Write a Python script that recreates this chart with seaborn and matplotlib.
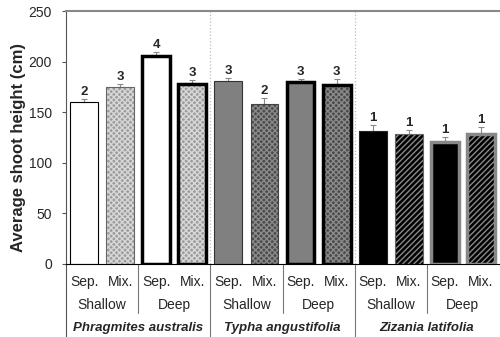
import matplotlib
matplotlib.use("Agg")
import matplotlib.pyplot as plt
from matplotlib.patches import Rectangle
import seaborn as sns
import pandas as pd

species = ["Phragmites australis", "Typha angustifolia", "Zizania latifolia"]
depths = ["Shallow", "Deep"]
mixes = ["Sep.", "Mix."]

heights = [160, 175, 206, 178, 181, 158, 180, 177, 131, 128, 121, 128]
errs = [3, 3, 4, 4, 3, 6, 3, 6, 6, 4, 4, 7]
n_lab = ["2", "3", "4", "3", "3", "2", "3", "3", "1", "1", "1", "1"]

sns.set_style("white")
plt.rcParams["font.family"] = ["Liberation Sans", "DejaVu Sans"]
plt.rcParams["hatch.linewidth"] = 1.0

rows = []
for s in species:
    for d in depths:
        for m in mixes:
            rows.append((s, d, m))
df = pd.DataFrame(rows, columns=["species", "depth", "mix"])
df["height"] = heights
df["err"] = errs
df["key"] = [f"{i}" for i in range(len(df))]

fig = plt.figure(figsize=(5, 3.37), dpi=100)
ax = fig.add_axes([0.132, 0.217, 0.866, 0.75])

sns.barplot(data=df, x="key", y="height", width=0.77, errorbar=None,
            color="white", ax=ax)

# fill / hatch / outline per bar
fills = ["white", "#9c9c9c", "white", "#9c9c9c",
         "#808080", "#4a4a4a", "#808080", "#4a4a4a",
         "black", "black", "black", "black"]
hatches = [None, "xxxxxx", None, "xxxxxx",
           None, "xxxxxx", None, "xxxxxx",
           None, "//////", None, "//////"]
hcolors = [None, "#d8d8d8", None, "#d8d8d8",
           None, "#8a8a8a", None, "#8a8a8a",
           None, "#8a8a8a", None, "#8a8a8a"]
ecolors = ["black", "#666666", "black", "black",
           "#333333", "#444444", "black", "black",
           "#222222", "#666666", "#888888", "#888888"]
ewidths = [0.8, 0.8, 2.5, 2.5, 0.8, 0.8, 2.5, 2.5, 0.8, 0.8, 2.5, 2.5]

for i, p in enumerate(ax.patches[:len(df)]):
    p.set_facecolor(fills[i])
    if hatches[i]:
        p.set_hatch(hatches[i])
        p.set_edgecolor(hcolors[i])
        p.set_linewidth(0)
    else:
        p.set_edgecolor(fills[i])
        p.set_linewidth(0)
    ax.add_patch(Rectangle(p.get_xy(), p.get_width(), p.get_height(),
                           fill=False, edgecolor=ecolors[i],
                           linewidth=ewidths[i], zorder=3))

xs = range(len(df))
ax.errorbar(xs, df["height"], yerr=[[0] * len(df), df["err"]], fmt="none",
            ecolor="#8a8a8a", elinewidth=0.8, capsize=2, capthick=0.8, zorder=2)
for x, h, e, t in zip(xs, df["height"], df["err"], n_lab):
    ax.text(x, h + e + 1, t, ha="center", va="bottom", fontsize=9.5,
            fontweight="bold")

ax.set_xlim(-0.5, 11.5)
ax.set_ylim(0, 250)
ax.set_yticks([0, 50, 100, 150, 200, 250])
ax.tick_params(axis="y", labelsize=10, length=3, direction="out", left=True,
               color="#555555", pad=7)
ax.set_xticks([])
ax.set_xlabel("")
ax.set_ylabel("Average shoot height (cm)", fontsize=12, fontweight="bold")
ax.yaxis.set_label_coords(-0.093, 0.46)

ax.spines["right"].set_visible(False)
ax.spines["top"].set_color("#888888")
ax.spines["top"].set_linewidth(1.5)
ax.spines["left"].set_color("#555555")
ax.spines["bottom"].set_color("black")

# dotted species dividers
for x in [3.5, 7.5]:
    ax.axvline(x, color="#bbbbbb", linestyle=":", linewidth=0.9, zorder=0)

# multi-level category labels
tr = ax.get_xaxis_transform()
bottom_ax = -0.217 / 0.75
ax.plot([-0.5, -0.5], [0, bottom_ax], transform=tr, color="#555555",
        lw=0.8, clip_on=False)
for x in [3.5, 7.5]:
    ax.plot([x, x], [0, bottom_ax], transform=tr, color="#777777", lw=0.8,
            clip_on=False)
for x in [1.5, 5.5, 9.5]:
    ax.plot([x, x], [0, -0.194], transform=tr, color="#777777", lw=0.8,
            clip_on=False)

for i, r in df.iterrows():
    ax.text(i, -0.071, r["mix"], transform=tr, ha="center", va="center",
            fontsize=10)
for j in range(len(species) * len(depths)):
    ax.text(2 * j + 0.5, -0.162, depths[j % 2], transform=tr, ha="center",
            va="center", fontsize=10)
for k, s in enumerate(species):
    ax.text(4 * k + 1.5, -0.253, s, transform=tr, ha="center", va="center",
            fontsize=9.5, fontweight="bold", fontstyle="italic")

fig.savefig("out.png", dpi=100)
